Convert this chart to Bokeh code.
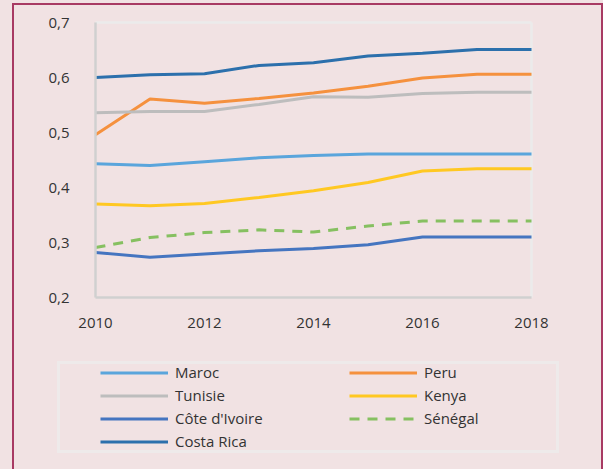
from bokeh.plotting import figure
from bokeh.models import (Legend, LegendItem, FixedTicker, Range1d, GlobalInlineStyleSheet)
from bokeh.embed import file_html
from bokeh.resources import INLINE

years = [2010, 2011, 2012, 2013, 2014, 2015, 2016, 2017, 2018]
maroc = [0.443, 0.440, 0.447, 0.454, 0.458, 0.461, 0.461, 0.461, 0.461]
peru = [0.496, 0.561, 0.553, 0.562, 0.572, 0.584, 0.599, 0.606, 0.606]
tunisie = [0.536, 0.538, 0.538, 0.551, 0.565, 0.564, 0.571, 0.573, 0.573]
kenya = [0.370, 0.367, 0.371, 0.382, 0.394, 0.409, 0.430, 0.434, 0.434]
cote_ivoire = [0.282, 0.273, 0.279, 0.285, 0.289, 0.296, 0.310, 0.310, 0.310]
senegal = [0.291, 0.309, 0.318, 0.323, 0.319, 0.330, 0.339, 0.339, 0.339]
costa_rica = [0.600, 0.605, 0.607, 0.622, 0.627, 0.639, 0.644, 0.651, 0.651]

y_ticks = [0.2, 0.3, 0.4, 0.5, 0.6, 0.7]
y_tick_labels = ["0,2", "0,3", "0,4", "0,5", "0,6", "0,7"]
x_ticks = [2010, 2012, 2014, 2016, 2018]

series = {
    "Maroc": (maroc, "#5AA5DC", "solid"),
    "Peru": (peru, "#F5913E", "solid"),
    "Tunisie": (tunisie, "#BDBDBD", "solid"),
    "Kenya": (kenya, "#FFC822", "solid"),
    "Côte d'Ivoire": (cote_ivoire, "#4575C0", "solid"),
    "Sénégal": (senegal, "#86C061", "10 8"),
    "Costa Rica": (costa_rica, "#2C70AC", "solid"),
}
# legend fills column by column
legend_order = ["Maroc", "Tunisie", "Côte d'Ivoire", "Costa Rica", "Peru", "Kenya", "Sénégal"]

BG = "#F1E2E3"
FONT = "Open Sans"
TXT = "#333333"

css = ("body{background:%s;}"
       " body::after{content:'';position:fixed;left:12px;top:3px;"
       "width:591px;height:520px;border:2px solid #A83A63;box-sizing:border-box;"
       "pointer-events:none;z-index:9999;}"
       " body::before{content:'';position:fixed;left:57px;top:361px;"
       "width:502px;height:92px;border:3px solid #EEEAEA;box-sizing:border-box;"
       "pointer-events:none;z-index:9998;}" % BG)

# layout (pixels): plot area is 436 x 275; the frame is larger so that the
# axis labels and the legend, drawn inside it, are not clipped
PLOT_W, PLOT_H = 436, 275
PAD_L, PAD_R, PAD_T = 75, 59, 16
FRAME_W, FRAME_H = PLOT_W + PAD_L + PAD_R, 447 + PAD_T
x0, x1 = years[0], years[-1]
y0, y1 = y_ticks[0], y_ticks[-1]
px_x = (x1 - x0) / PLOT_W
px_y = (y1 - y0) / PLOT_H
y_top = y1 + PAD_T * px_y

p = figure(frame_width=FRAME_W, frame_height=FRAME_H, output_backend="svg", toolbar_location=None,
           x_range=Range1d(x0 - PAD_L * px_x, x1 + PAD_R * px_x),
           y_range=Range1d(y_top - FRAME_H * px_y, y_top),
           min_border_left=95 - PAD_L, min_border_right=0, min_border_top=22 - PAD_T,
           min_border_bottom=0,
           background_fill_color=BG, border_fill_color=BG)
p.stylesheets = [GlobalInlineStyleSheet(css=css)]

p.xgrid.grid_line_color = None
p.ygrid.grid_line_color = None
p.outline_line_color = None

for ax in (p.xaxis[0], p.yaxis[0]):
    ax.axis_line_color = "#D0D0D0"
    ax.axis_line_width = 2.5
    ax.major_tick_line_color = None
    ax.minor_tick_line_color = None
    ax.major_label_text_font = FONT
    ax.major_label_text_font_size = "15px"
    ax.major_label_text_color = TXT

p.yaxis.ticker = FixedTicker(ticks=y_ticks)
p.yaxis.bounds = (y0, y1)
p.yaxis.fixed_location = x0
p.yaxis.major_label_overrides = {t: l for t, l in zip(y_ticks, y_tick_labels)}
p.yaxis.major_label_standoff = 20
p.xaxis.ticker = FixedTicker(ticks=x_ticks)
p.xaxis.bounds = (x0, x1)
p.xaxis.fixed_location = y0
p.xaxis.major_label_standoff = 14

# light top and right border of the plot area
p.segment(x0=[x0, x1], y0=[y1, y0], x1=[x1, x1], y1=[y1, y1],
          line_color="#EBEBEB", line_width=2.5)

renderers = {}
for name, (vals, color, dash) in series.items():
    renderers[name] = p.line(years, vals, line_color=color, line_width=3, line_dash=dash)

items = [LegendItem(label=n, renderers=[renderers[n]]) for n in legend_order]

legend = Legend(items=items, ncols=2, location=(PAD_L + 5, 18), border_line_color=None,
                background_fill_alpha=0, padding=0, spacing=3, margin=0,
                glyph_width=68, glyph_height=19, label_height=19, label_width=171,
                label_standoff=7, label_text_font=FONT, label_text_font_size="15px",
                label_text_color=TXT)
p.add_layout(legend)

open("out.html", "w").write(file_html(p, INLINE))
